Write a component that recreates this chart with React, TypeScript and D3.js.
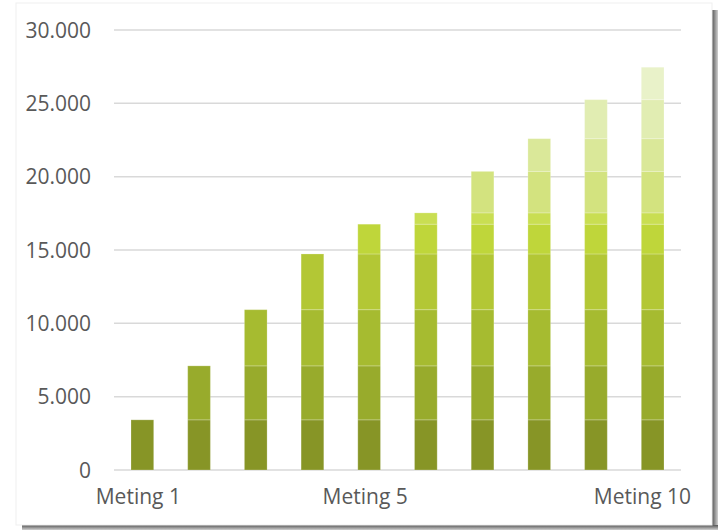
import React from "react";
import * as d3 from "d3";

const categories = ["Meting 1", "Meting 2", "Meting 3", "Meting 4", "Meting 5", "Meting 6", "Meting 7", "Meting 8", "Meting 9", "Meting 10"];
// Increment added at each measurement (series i first appears at category i)
const segmentValues = [3420, 3680, 3830, 3800, 2030, 770, 2830, 2230, 2660, 2210];
const segmentColors = ["#879526", "#98ab2c", "#a6bb30", "#b3c735", "#bfd63a", "#c9de52", "#d3e37f", "#dae899", "#e1edb2", "#e9f2c9"];
const yTicks = [0, 5000, 10000, 15000, 20000, 25000, 30000];
const shownLabels = ["Meting 1", "Meting 5", "Meting 10"];

const W = 718, H = 530;
const plot = { left: 114, right: 681, top: 30, bottom: 470 };

export default function App() {
  const keys = segmentValues.map((_, i) => "s" + i);
  const rows = categories.map((c, j) => {
    const r: any = { cat: c };
    segmentValues.forEach((v, i) => { r["s" + i] = j >= i ? v : 0; });
    return r;
  });
  const stacked = d3.stack().keys(keys)(rows);
  const x = d3.scaleBand().domain(categories).range([plot.left, plot.right]).paddingInner(0.6).paddingOuter(0.3);
  const y = d3.scaleLinear().domain([0, 30000]).range([plot.bottom, plot.top]);
  const fmt = (v: number) => d3.format(",")(v).replace(/,/g, ".");
  const font = "'Open Sans', sans-serif";

  return (
    <svg width={W} height={H} style={{ position: "absolute", left: 0, top: 0 }}>
      <defs>
        <linearGradient id="shR" x1="0" x2="1" y1="0" y2="0">
          <stop offset="0" stopColor="#555" />
          <stop offset="1" stopColor="#d0d0d0" />
        </linearGradient>
        <linearGradient id="shB" x1="0" x2="0" y1="0" y2="1">
          <stop offset="0" stopColor="#555" />
          <stop offset="1" stopColor="#d0d0d0" />
        </linearGradient>
      </defs>
      <rect x={0} y={0} width={W} height={H} fill="#fff" />
      <rect x={712} y={10} width={6} height={520} fill="url(#shR)" />
      <rect x={22} y={525} width={696} height={5} fill="url(#shB)" />
      <rect x={16} y={3} width={696} height={522} fill="#fff" stroke="#efefef" strokeWidth={1} />
      {yTicks.map((t) => (
        <g key={t}>
          <line x1={plot.left} x2={plot.right} y1={y(t)} y2={y(t)} stroke="#d9d9d9" strokeWidth={1.5} />
          <text x={91} y={y(t)} dy="0.36em" textAnchor="end" fontFamily={font} fontSize={21} fill="#595959">{fmt(t)}</text>
        </g>
      ))}
      {stacked.map((s, i) => (
        <g key={i} fill={segmentColors[i]}>
          {s.map((d, j) => d[1] - d[0] > 0 ? (
            <rect key={j} x={x(categories[j])!} width={x.bandwidth()} y={y(d[1])} height={y(d[0]) - y(d[1])}
              stroke="rgba(255,255,255,0.22)" strokeWidth={1} />
          ) : null)}
        </g>
      ))}
      {shownLabels.map((c) => {
        const cx = x(c)! + x.bandwidth() / 2;
        const isLast = c === categories[categories.length - 1];
        return (
          <text key={c} x={isLast ? 691 : cx - 4} y={504} textAnchor={isLast ? "end" : "middle"} fontFamily={font} fontSize={21} fill="#595959">{c}</text>
        );
      })}
    </svg>
  );
}
